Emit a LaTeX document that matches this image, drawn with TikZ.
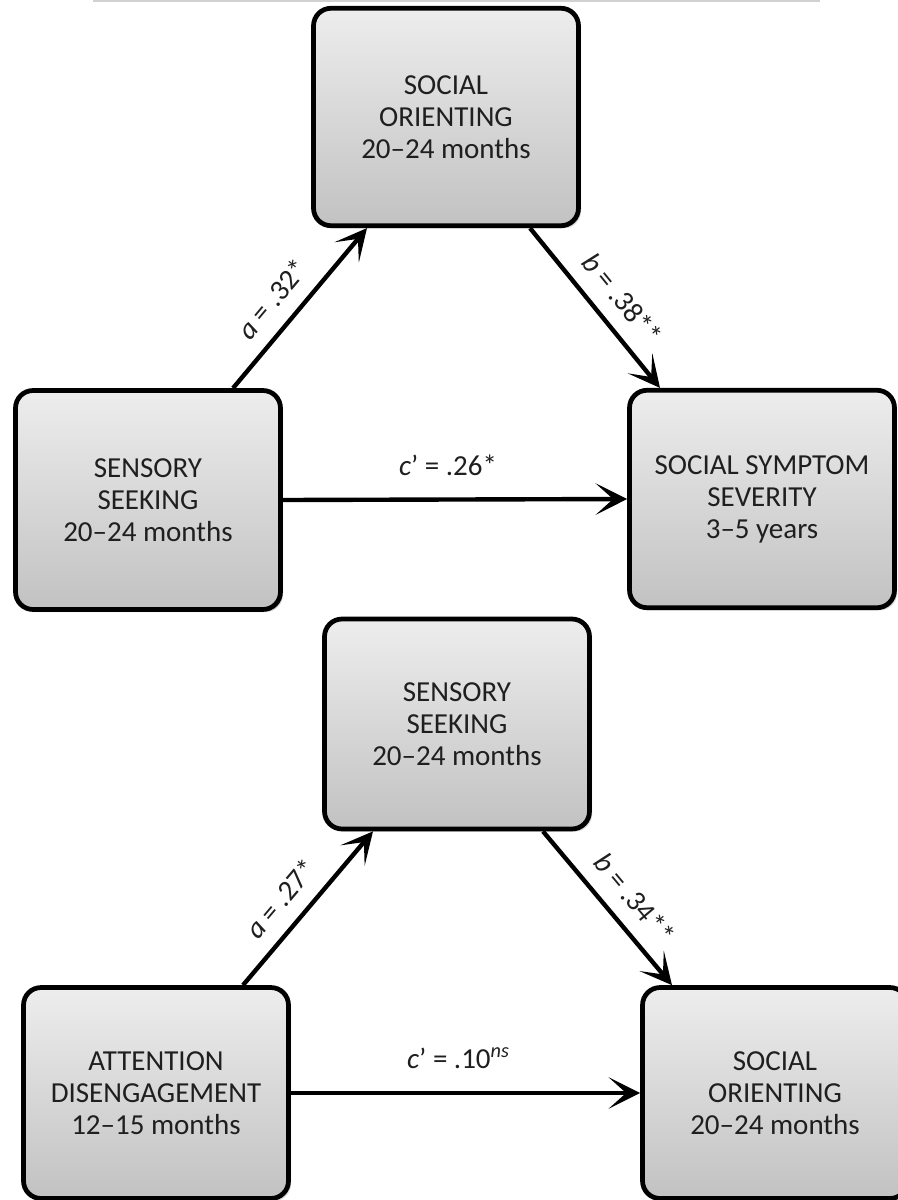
\documentclass[tikz,border=0pt]{standalone}
\usepackage{fontspec}
\setmainfont{Carlito}
\usetikzlibrary{arrows.meta,calc,shadows}

\tikzset{
  box/.style={draw, line width=2.7pt, rounded corners=0.35cm,
    top color=black!7, bottom color=black!24,
    minimum width=5.3cm, minimum height=4.3cm, align=center,
    font=\fontsize{16.5}{18.2}\selectfont, text=black!88,
    drop shadow={opacity=0.3, shadow xshift=1.5pt, shadow yshift=-1.5pt}},
  effect/.style={-{Stealth[length=18pt, width=18pt, inset=10pt]}, line width=2.5pt},
  coef/.style={sloped, above=5pt, font=\fontsize{16.5}{18.2}\selectfont, text=black!88}
}

\begin{document}
\begin{tikzpicture}[x=0.02cm, y=-0.02cm]
\useasboundingbox (0,0) rectangle (898,1200);
\draw[black!18, line width=1.2pt] (93,1) -- (820,1);

% Social orienting as mediator
\begin{scope}
\node[box, minimum height=4.35cm] (so) at (446,117) {SOCIAL\\ORIENTING\\20--24 months};
\node[box, minimum height=4.38cm] (ss) at (148,500) {SENSORY\\SEEKING\\20--24 months};
\node[box, minimum height=4.35cm] (sev) at (762,499) {SOCIAL SYMPTOM\\SEVERITY\\3--5 years};
\draw[effect] ($(ss.north)+(85,0)$) -- node[coef, pos=0.45] {\textit{a} = .32*} ($(so.south)+(-79,0)$);
\draw[effect] ($(so.south)+(84,0)$) -- node[coef, pos=0.55] {\textit{b} = .38**} ($(sev.north)+(-102,0)$);
\draw[effect] (ss.east) -- node[coef, above=4pt, pos=0.48] {\textit{c}’ = .26*} (sev.west);
\end{scope}

% Sensory seeking as mediator
\begin{scope}
\node[box, minimum height=4.2cm] (ss2) at (457,724) {SENSORY\\SEEKING\\20--24 months};
\node[box, minimum height=4.22cm] (ad) at (156,1093) {ATTENTION\\DISENGAGEMENT\\12--15 months};
\node[box, minimum height=4.22cm] (so2) at (775,1093) {SOCIAL\\ORIENTING\\20--24 months};
\draw[effect] ($(ad.north)+(87,0)$) -- node[coef, pos=0.45] {\textit{a} = .27*} ($(ss2.south)+(-84,0)$);
\draw[effect] ($(ss2.south)+(86,0)$) -- node[coef, pos=0.55] {\textit{b} = .34**} ($(so2.north)+(-103,0)$);
\draw[effect] (ad.east) -- node[coef, above=4pt, pos=0.48] {\textit{c}’ = .10\textsuperscript{\textit{ns}}} (so2.west);
\end{scope}
\end{tikzpicture}
\end{document}
